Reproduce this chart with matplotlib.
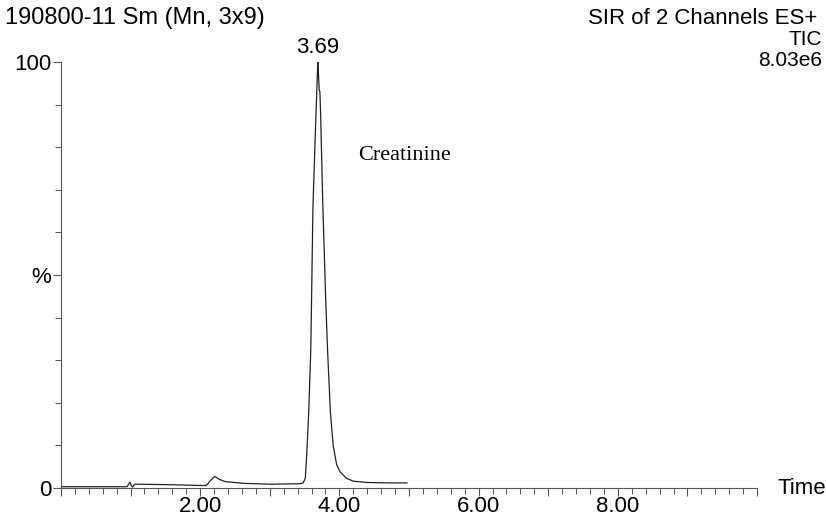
import matplotlib.pyplot as plt
from matplotlib.ticker import MultipleLocator

# chromatogram trace (minutes, % of max)
time = [0.00, 0.50, 0.95, 0.99, 1.01, 1.03, 1.06, 1.50, 2.00, 2.09, 2.15, 2.21,
        2.28, 2.36, 2.62, 3.00, 3.43, 3.48, 3.51, 3.53, 3.56, 3.59, 3.62, 3.66,
        3.69, 3.70, 3.71, 3.72, 3.73, 3.76, 3.80, 3.83, 3.87, 3.91, 3.96, 4.01,
        4.10, 4.20, 4.40, 4.70, 4.97]
intensity = [0.3, 0.3, 0.3, 1.4, 0.6, 0.2, 0.9, 0.8, 0.6, 0.6, 1.8, 2.7,
             2.0, 1.5, 1.1, 0.9, 1.0, 1.2, 2.3, 7.7, 18, 33, 66, 86,
             100, 97, 93.5, 93, 88, 67.6, 46, 32.4, 18, 10.1, 5.5, 3.8,
             2.3, 1.6, 1.3, 1.2, 1.2]

x_labels = {2: "2.00", 4: "4.00", 6: "6.00", 8: "8.00"}
peak_time = 3.69

plt.rcParams['font.family'] = ['Liberation Sans', 'DejaVu Sans']

fig = plt.figure(figsize=(8.26, 5.19), dpi=100)
ax = fig.add_axes([0.0738, 0.0597, 0.8427, 0.8208])

ax.plot(time, intensity, color='#222222', lw=0.9)

ax.set_xlim(0, 10)
ax.set_ylim(0, 100)

for s in ['top', 'right']:
    ax.spines[s].set_visible(False)
for s in ['left', 'bottom']:
    ax.spines[s].set_color('#555555')
    ax.spines[s].set_linewidth(0.8)

ax.xaxis.set_major_locator(MultipleLocator(1))
ax.xaxis.set_minor_locator(MultipleLocator(0.2))
ax.set_xticklabels([x_labels.get(int(round(t)), "") for t in ax.get_xticks()])
ax.tick_params(axis='x', which='major', length=6, width=0.8, color='#555555',
               labelsize=16, pad=0)
ax.tick_params(axis='x', which='minor', length=4, width=0.7, color='#555555')

ax.set_yticks([0, 50, 100])
ax.set_yticklabels(["0", "%", "100"])
ax.yaxis.set_minor_locator(MultipleLocator(10))
ax.tick_params(axis='y', which='major', length=6, width=0.8, color='#555555',
               labelsize=16, pad=1)
ax.tick_params(axis='y', which='minor', length=4, width=0.7, color='#555555')

ax.text(10.3, 0, "Time", fontsize=16, ha='left', va='center')

ax.annotate(f"{peak_time:.2f}", xy=(peak_time, 100), xytext=(0, 3),
            textcoords='offset points', ha='center', va='bottom', fontsize=16)
ax.text(4.27, 78, "Creatinine", family=['Liberation Serif'], fontsize=16,
        ha='left', va='center')

fig.text(0.006, 0.965, "190800-11 Sm (Mn, 3x9)", fontsize=17, ha='left', va='center')
fig.text(0.99, 0.965, "SIR of 2 Channels ES+", fontsize=16, ha='right', va='center')
fig.text(0.995, 0.924, "TIC", fontsize=15, ha='right', va='center')
fig.text(0.995, 0.883, "8.03e6", fontsize=15, ha='right', va='center')

fig.savefig("out.png", dpi=100)
